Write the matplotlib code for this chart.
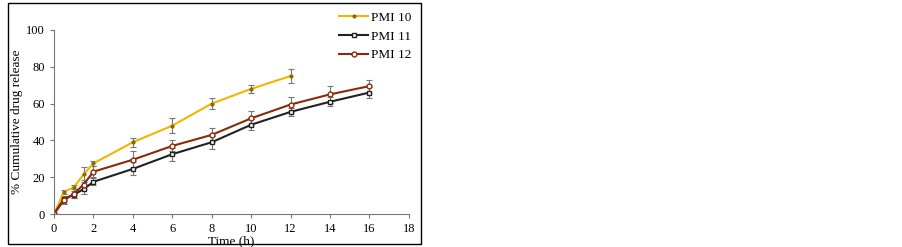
import matplotlib.pyplot as plt
from matplotlib.patches import Rectangle
from matplotlib.lines import Line2D

plt.rcParams['font.family'] = ['Liberation Serif', 'DejaVu Serif']

t10 = [0, 0.5, 1, 1.5, 2, 4, 6, 8, 10, 12]
pmi10 = [0, 12, 14.5, 21.5, 27.5, 39, 48, 60, 68, 75]
err10 = [0, 1, 1, 4, 1.5, 2.5, 4, 3, 2, 4]

t = [0, 0.5, 1, 1.5, 2, 4, 6, 8, 10, 12, 14, 16]
pmi11 = [0, 8, 10.5, 13.5, 17.5, 24.5, 32.5, 39, 48.5, 55.5, 61, 66]
err11 = [0, 2, 2, 2.5, 2, 3.5, 3.5, 3.5, 3, 2, 2.5, 3]
pmi12 = [0, 7.5, 11, 16, 23, 29.5, 37, 43, 52, 59.5, 65, 69.5]
err12 = [0, 2, 2.5, 2.5, 3, 4.5, 3, 4, 4, 4, 4.5, 3.5]

fig = plt.figure(figsize=(9.03, 2.47), dpi=100)
ax = fig.add_axes([0.0598, 0.1336, 0.393, 0.745])

ebkw = dict(ecolor='#777777', elinewidth=0.8, capsize=2.5, capthick=0.8)
st10 = dict(color='#F5B400', lw=1.5, marker='o', ms=2, mfc='#8a6a00', mec='#8a6a00')
st11 = dict(color='#222222', lw=1.5, marker='s', ms=3.5, mfc='white', mec='#222222')
st12 = dict(color='#8B2A0A', lw=1.5, marker='o', ms=3.5, mfc='white', mec='#8B2A0A')
ax.errorbar(t10, pmi10, yerr=err10, **st10, **ebkw)
ax.errorbar(t, pmi11, yerr=err11, **st11, **ebkw)
ax.errorbar(t, pmi12, yerr=err12, **st12, **ebkw)

ax.set_xlim(0, 18)
ax.set_ylim(0, 100)
ax.set_xticks(range(0, 19, 2))
ax.set_yticks(range(0, 101, 20))
for s in ['top', 'right']:
    ax.spines[s].set_visible(False)
for s in ['left', 'bottom']:
    ax.spines[s].set_color('#777777')
ax.tick_params(colors='#777777', labelcolor='black', labelsize=9, length=3)
ax.set_xlabel('Time (h)', fontsize=9.5, labelpad=0)
ax.set_ylabel('% Cumulative drug release', fontsize=9.5, labelpad=2)

handles = [Line2D([], [], **st10), Line2D([], [], **st11), Line2D([], [], **st12)]
ax.legend(handles, ['PMI 10', 'PMI 11', 'PMI 12'], loc='upper left',
          bbox_to_anchor=(0.77, 1.165), frameon=False, fontsize=9.5,
          handlelength=2.2, handletextpad=0.2, labelspacing=0.5)

fig.patches.append(Rectangle((8 / 903, 3 / 247), 413 / 903, 241 / 247,
                             transform=fig.transFigure, fill=False,
                             edgecolor='black', lw=1))

plt.savefig('out.png', dpi=100)
